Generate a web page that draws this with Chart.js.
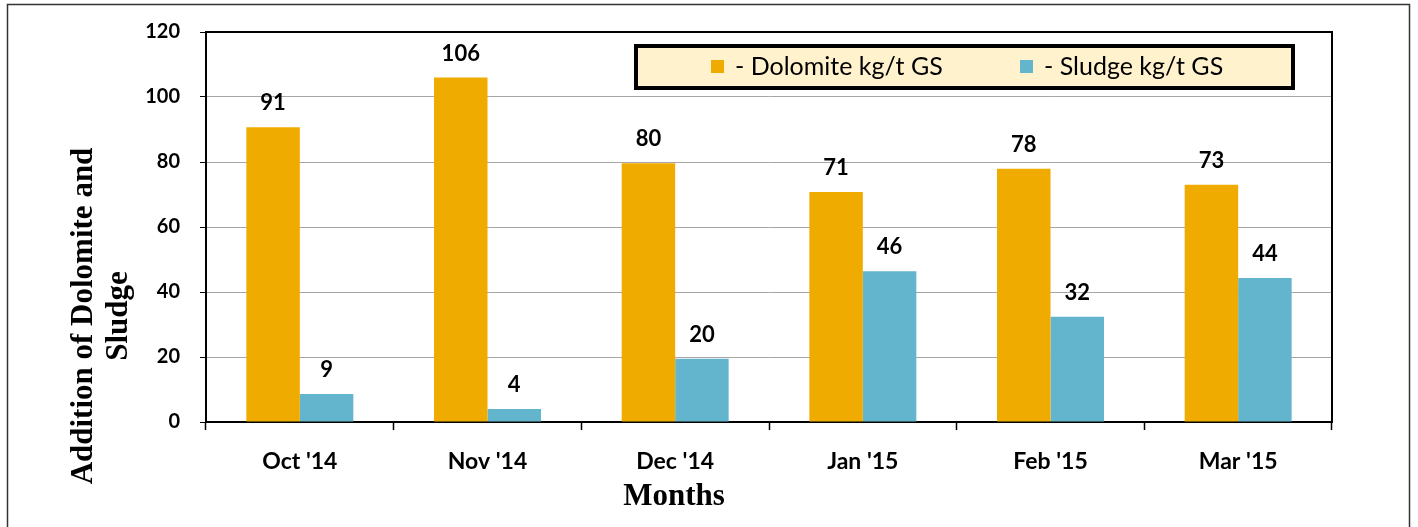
<!DOCTYPE html>
<html>
<head>
<meta charset="utf-8">
<script src="https://cdn.jsdelivr.net/npm/chart.js@4"></script>
<style>
  html, body { margin: 0; padding: 0; background: #fff; }
  #wrap { width: 1418px; height: 527px; position: relative; }
</style>
</head>
<body>
<div id="wrap"><canvas id="chart" width="1418" height="527"></canvas></div>
<script>
const MONTHS = ["Oct '14", "Nov '14", "Dec '14", "Jan '15", "Feb '15", "Mar '15"];
const DOLOMITE = [90.7, 106, 79.6, 70.8, 77.9, 73];
const SLUDGE = [8.6, 4, 19.5, 46.4, 32.4, 44.3];
const Y_TICKS = [0, 20, 40, 60, 80, 100, 120];

const ORANGE = "#F0AB00";
const BLUE = "#62B5CD";
const LABEL_FONT = "Lato, 'Open Sans', sans-serif";
const TITLE_FONT = "'Liberation Serif', 'DejaVu Serif', serif";

// frame, plot border, value labels, axis titles and the boxed legend
const decorations = {
  id: "decorations",
  beforeDraw(chart) {
    const ctx = chart.ctx;
    ctx.save();
    ctx.fillStyle = "#fff";
    ctx.fillRect(0, 0, chart.width, chart.height);
    ctx.strokeStyle = "#333";
    ctx.lineWidth = 1.5;
    ctx.strokeRect(7.5, 4.5, 1402, 530);
    ctx.restore();
  },
  afterDatasetsDraw(chart) {
    const ctx = chart.ctx;
    const a = chart.chartArea;
    ctx.save();
    // plot border (top / right)
    ctx.strokeStyle = "#000";
    ctx.lineWidth = 2;
    ctx.beginPath();
    ctx.moveTo(a.left, a.top);
    ctx.lineTo(a.right, a.top);
    ctx.lineTo(a.right, a.bottom);
    ctx.stroke();

    // value labels
    ctx.fillStyle = "#000";
    ctx.font = "bold 22px " + LABEL_FONT;
    ctx.textAlign = "center";
    ctx.textBaseline = "alphabetic";
    chart.data.datasets.forEach((ds, i) => {
      chart.getDatasetMeta(i).data.forEach((bar, j) => {
        ctx.fillText(String(Math.round(ds.data[j])), bar.x, bar.y - 17);
      });
    });

    // legend box
    const lx = 636, ly = 46, lw = 657, lh = 42;
    ctx.fillStyle = "#FFF2CC";
    ctx.fillRect(lx, ly, lw, lh);
    ctx.strokeStyle = "#000";
    ctx.lineWidth = 4;
    ctx.strokeRect(lx, ly, lw, lh);
    const itemX = [711, 1020];
    ctx.font = "25px " + LABEL_FONT;
    ctx.textAlign = "left";
    ctx.textBaseline = "middle";
    chart.data.datasets.forEach((ds, i) => {
      ctx.fillStyle = ds.backgroundColor;
      ctx.fillRect(itemX[i], 60, 13, 13);
      ctx.fillStyle = "#000";
      ctx.fillText("- " + ds.label, itemX[i] + 24, 67);
    });

    // axis titles
    ctx.font = "bold 31px " + TITLE_FONT;
    ctx.textAlign = "center";
    ctx.fillText("Months", 674, 497);
    ctx.translate(101, 316);
    ctx.rotate(-Math.PI / 2);
    ctx.fillText("Addition of Dolomite and", 0, -17);
    ctx.fillText("Sludge", 0, 18);
    ctx.restore();
  }
};

new Chart(document.getElementById("chart"), {
  type: "bar",
  data: {
    labels: MONTHS,
    datasets: [
      { label: "Dolomite kg/t GS", data: DOLOMITE, backgroundColor: ORANGE },
      { label: "Sludge kg/t GS", data: SLUDGE, backgroundColor: BLUE }
    ]
  },
  options: {
    responsive: false,
    animation: false,
    devicePixelRatio: 1,
    layout: { padding: { left: 0, top: 29, right: 86, bottom: 0 } },
    datasets: { bar: { categoryPercentage: 0.57, barPercentage: 1 } },
    plugins: { legend: { display: false }, tooltip: { enabled: false } },
    scales: {
      x: {
        afterFit(s) { s.height = 105; },
        grid: { offset: true, drawOnChartArea: false, tickLength: 8, tickColor: "#000", tickWidth: 1.5 },
        border: { color: "#000", width: 2 },
        ticks: { color: "#000", padding: 18, font: { family: LABEL_FONT, size: 23, weight: "bold" } }
      },
      y: {
        min: 0,
        max: 120,
        afterFit(s) { s.width = 206; },
        afterBuildTicks(s) { s.ticks = Y_TICKS.map(v => ({ value: v })); },
        grid: { color: "#A6A6A6", lineWidth: 1, tickLength: 6, tickColor: "#000" },
        border: { color: "#000", width: 2 },
        ticks: { color: "#000", padding: 20, font: { family: LABEL_FONT, size: 20, weight: "bold" } }
      }
    }
  },
  plugins: [decorations]
});
</script>
</body>
</html>
